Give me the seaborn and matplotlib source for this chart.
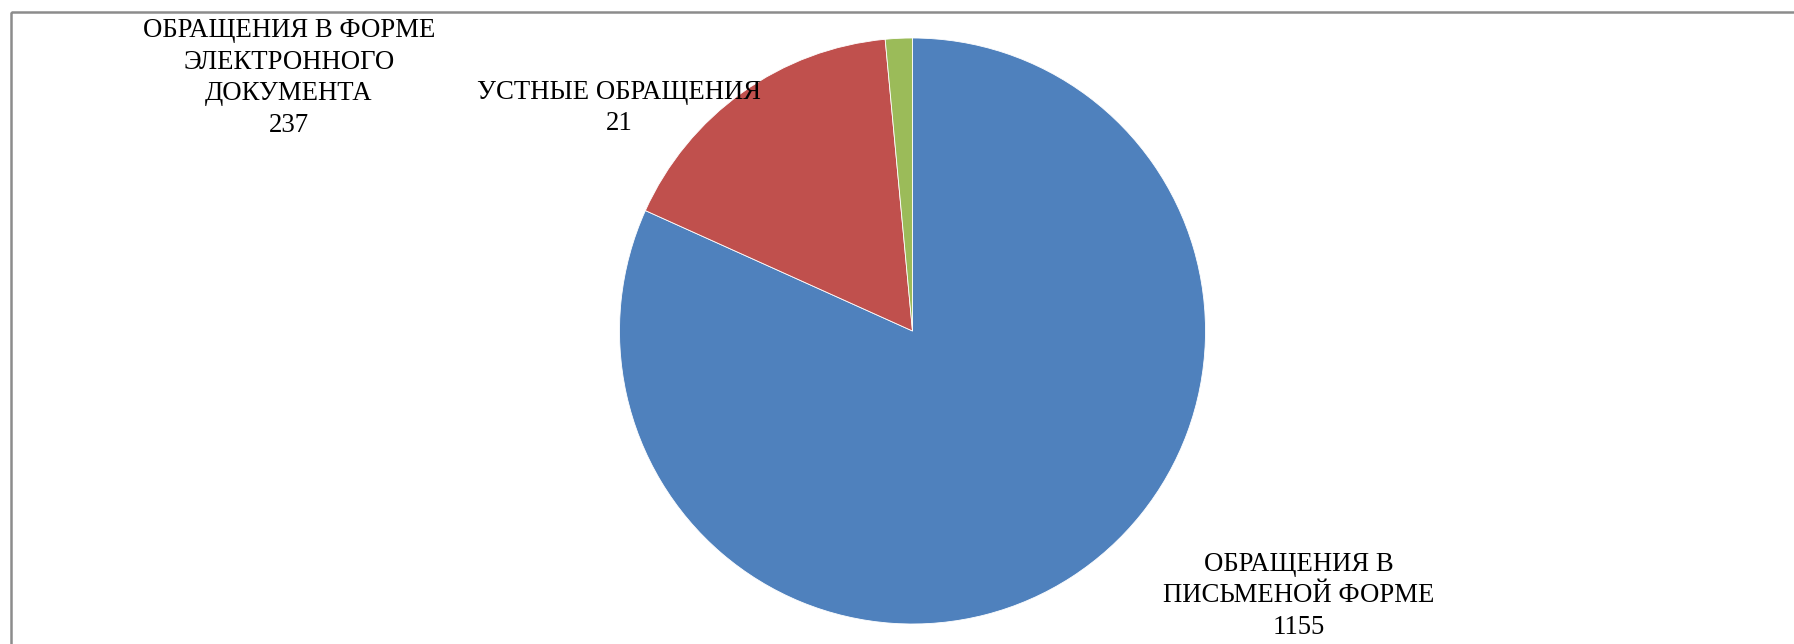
import matplotlib
matplotlib.use("Agg")
import matplotlib.pyplot as plt
import matplotlib.patches as patches
import seaborn as sns

# данные диаграммы
categories = ["ОБРАЩЕНИЯ В\nПИСЬМЕНОЙ ФОРМЕ",
              "ОБРАЩЕНИЯ В ФОРМЕ\nЭЛЕКТРОННОГО\nДОКУМЕНТА",
              "УСТНЫЕ ОБРАЩЕНИЯ"]
values = [1155, 237, 21]
colors = ["#4F81BD", "#C0504D", "#9BBB59"]

# позиции подписей (в пикселях картинки)
label_pos = [(1299, 596), (289, 78), (619, 108)]

sns.set_theme(style="white")
plt.rcParams["font.family"] = ["Liberation Serif", "DejaVu Serif"]

W, H = 1794, 644
fig = plt.figure(figsize=(W / 100, H / 100), dpi=100)
fig.patch.set_facecolor("white")

# рамка диаграммы (правая и нижняя стороны уходят за край)
border = patches.Rectangle((11 / W, 1 - 12 / H), 2.0, -2.0,
                           transform=fig.transFigure, fill=False,
                           edgecolor="#8c8c8c", linewidth=1.8)
fig.patches.append(border)

# круговая диаграмма
cx, cy, r = 912.5, 331, 293
ax = fig.add_axes([(cx - r) / W, (H - cy - r) / H, 2 * r / W, 2 * r / H])
ax.pie(values, colors=colors, startangle=90, counterclock=False,
       wedgeprops={"edgecolor": "white", "linewidth": 0.6})
ax.set_xlim(-1, 1)
ax.set_ylim(-1, 1)
ax.set_aspect("equal")
ax.axis("off")

for cat, val, (px, py) in zip(categories, values, label_pos):
    fig.text(px / W, 1 - py / H, f"{cat}\n{val}", ha="center", va="center",
             fontsize=19.3, linespacing=1.35, color="black")

fig.savefig("out.png", dpi=100)
